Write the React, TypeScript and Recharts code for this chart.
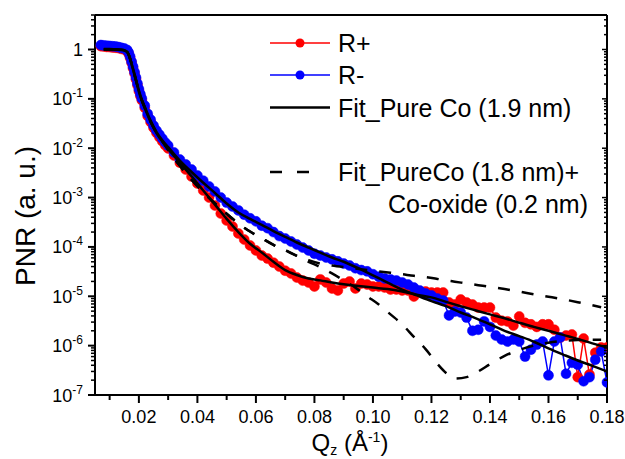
import React from "react";
import { LineChart, Line, XAxis, YAxis } from "recharts";

const FONT = '"Liberation Sans", Arial, Helvetica, sans-serif';

// measured points (R+ / R-), shared Q grid
const qData = [
  0.007, 0.008, 0.009, 0.010, 0.011, 0.012, 0.013, 0.014, 0.015, 0.016, 0.0165, 0.017, 0.0175, 0.018,
  0.0185, 0.019, 0.0195, 0.020, 0.0205, 0.021, 0.022, 0.023, 0.024, 0.025, 0.026, 0.027, 0.028, 0.029,
  0.030, 0.032, 0.034, 0.036, 0.038, 0.040, 0.042, 0.044, 0.046, 0.048, 0.050, 0.052, 0.054, 0.056,
  0.058, 0.060, 0.062, 0.064, 0.066, 0.068, 0.070, 0.072, 0.074, 0.076, 0.078, 0.080, 0.082, 0.084,
  0.086, 0.088, 0.090, 0.092, 0.094, 0.096, 0.098, 0.100, 0.102, 0.104, 0.106, 0.108, 0.110, 0.112,
  0.114, 0.116, 0.118, 0.120, 0.122, 0.124, 0.126, 0.128, 0.130, 0.132, 0.134, 0.136, 0.138, 0.140,
  0.142, 0.144, 0.146, 0.148, 0.150, 0.152, 0.154, 0.156, 0.158, 0.160, 0.162, 0.164, 0.166, 0.168,
  0.170, 0.172, 0.174, 0.176, 0.178, 0.180,
];

const rPlus = [
  1.17, 1.15, 1.13, 1.12, 1.10, 1.09, 1.07, 1.03, 1.0, 0.93, 0.82, 0.68, 0.54, 0.42,
  0.33, 0.25, 0.19, 0.145, 0.115, 0.094, 0.066, 0.045, 0.034, 0.026, 0.0205, 0.0168, 0.0138, 0.0115,
  0.0099, 0.0071, 0.0051, 0.0037, 0.00267, 0.00193, 0.00139, 0.001, 0.00069, 0.000475, 0.000343, 0.000259, 0.000187, 0.000141,
  0.000107, 8.5e-5, 6.7e-5, 5.8e-5, 4.8e-5, 4.0e-5, 3.3e-5, 2.9e-5, 2.4e-5, 2.08e-5, 1.9e-5, 1.58e-5, 2.2e-5, 1.9e-5,
  1.44e-5, 1.31e-5, 1.81e-5, 1.99e-5, 1.44e-5, 1.81e-5, 1.73e-5, 1.58e-5, 1.58e-5, 1.51e-5, 1.37e-5, 1.37e-5, 1.31e-5, 1.31e-5,
  9.9e-6, 1.25e-5, 1.25e-5, 1.19e-5, 1.19e-5, 1.19e-5, 7.5e-6, 6.8e-6, 8.6e-6, 7.5e-6, 6.8e-6, 5.9e-6, 5.9e-6, 5.9e-6,
  3.7e-6, 3.2e-6, 3.1e-6, 2.55e-6, 3.9e-6, 2.9e-6, 2.7e-6, 2.4e-6, 2.7e-6, 2.7e-6, 2.1e-6, 1.46e-6, 1.6e-6, 1.68e-6,
  2.3e-7, 1.39e-6, 2.6e-7, 7.2e-7, 9.2e-7, 9.2e-7,
];

const rMinus = [
  1.23, 1.21, 1.19, 1.18, 1.16, 1.15, 1.12, 1.08, 1.05, 0.98, 0.87, 0.72, 0.57, 0.45,
  0.35, 0.27, 0.205, 0.158, 0.125, 0.102, 0.073, 0.05, 0.038, 0.0288, 0.0229, 0.019, 0.0157, 0.0131,
  0.0113, 0.0082, 0.0059, 0.0047, 0.0037, 0.0028, 0.0022, 0.00168, 0.00133, 0.001, 0.00079, 0.00066, 0.00055, 0.00045,
  0.00038, 0.00033, 0.00027, 0.00024, 0.0002, 0.000166, 0.000148, 0.000129, 0.000112, 9.7e-5, 8.5e-5, 7.3e-5, 6.7e-5, 6.1e-5,
  5.6e-5, 5.1e-5, 4.6e-5, 4.2e-5, 3.7e-5, 3.4e-5, 3.2e-5, 2.8e-5, 2.5e-5, 2.3e-5, 2.2e-5, 2.08e-5, 1.9e-5, 1.73e-5,
  1.5e-5, 1.31e-5, 1.14e-5, 1.04e-5, 9.0e-6, 8.2e-6, 4.1e-6, 4.9e-6, 4.7e-6, 3.7e-6, 2.0e-6, 2.1e-6, 3.1e-6, 2.4e-6,
  1.6e-6, 1.33e-6, 1.21e-6, 1.33e-6, 1.21e-6, 6.0e-7, 8.3e-7, 1.05e-6, 1.21e-6, 2.5e-7, 1.21e-6, 1.46e-6, 2.7e-7, 4.5e-7,
  4.1e-7, 1.9e-7, 2.3e-7, 5.2e-7, 7.6e-7, 1.8e-7,
];

// pure Co fits (solid)
const qFit = [
  0.008, 0.010, 0.012, 0.014, 0.015, 0.016, 0.0165, 0.017, 0.0175, 0.018, 0.0185, 0.019, 0.0195, 0.020,
  0.021, 0.022, 0.024, 0.026, 0.028, 0.030, 0.034, 0.038, 0.042, 0.046, 0.050, 0.054, 0.058, 0.062,
  0.066, 0.070, 0.074, 0.078, 0.082, 0.086, 0.090, 0.095, 0.100, 0.105, 0.110, 0.115, 0.120, 0.125,
  0.130, 0.135, 0.140, 0.145, 0.150, 0.155, 0.160, 0.165, 0.170, 0.175, 0.180,
];

const fitPlus = [
  1.0, 1.0, 0.99, 0.98, 0.95, 0.88, 0.78, 0.64, 0.50, 0.39, 0.30, 0.235, 0.18, 0.14,
  0.091, 0.065, 0.034, 0.0203, 0.0136, 0.0097, 0.0051, 0.0027, 0.00139, 0.00072, 0.00037, 0.0002, 0.000116, 7.7e-5,
  5.0e-5, 3.4e-5, 2.7e-5, 2.3e-5, 2.1e-5, 1.9e-5, 1.75e-5, 1.62e-5, 1.5e-5, 1.4e-5, 1.25e-5, 1.08e-5, 9.5e-6, 7.7e-6,
  6.3e-6, 5.2e-6, 4.3e-6, 3.6e-6, 2.9e-6, 2.4e-6, 2.0e-6, 1.65e-6, 1.37e-6, 1.11e-6, 9.2e-7,
];

const fitMinus = [
  1.02, 1.02, 1.01, 1.0, 0.97, 0.90, 0.80, 0.66, 0.52, 0.41, 0.32, 0.245, 0.19, 0.148,
  0.096, 0.069, 0.036, 0.0215, 0.0145, 0.0105, 0.0056, 0.0033, 0.002, 0.00124, 0.00076, 0.0005, 0.00037, 0.00028,
  0.00021, 0.00016, 0.000123, 9.7e-5, 7.7e-5, 6.1e-5, 5.0e-5, 3.7e-5, 2.65e-5, 1.9e-5, 1.36e-5, 1.04e-5, 8.0e-6, 6.3e-6,
  4.7e-6, 3.6e-6, 2.7e-6, 2.0e-6, 1.56e-6, 1.2e-6, 8.8e-7, 6.6e-7, 5.0e-7, 3.9e-7, 3.0e-7,
];

// pure Co + Co-oxide fits (dashed)
const qOxide = [
  0.008, 0.012, 0.015, 0.016, 0.017, 0.018, 0.019, 0.020, 0.021, 0.022, 0.024, 0.026, 0.028, 0.030,
  0.034, 0.038, 0.042, 0.046, 0.050, 0.054, 0.058, 0.062, 0.066, 0.070, 0.074, 0.078, 0.082, 0.086,
  0.090, 0.094, 0.098, 0.102, 0.106, 0.110, 0.114, 0.118, 0.122, 0.125, 0.128, 0.132, 0.136, 0.140,
  0.145, 0.150, 0.155, 0.160, 0.165, 0.170, 0.178,
];

const oxidePlus = [
  1.0, 0.99, 0.96, 0.89, 0.65, 0.40, 0.24, 0.144, 0.094, 0.067, 0.035, 0.0208, 0.014, 0.0093,
  0.0044, 0.0023, 0.00129, 0.00076, 0.00047, 0.0003, 0.000205, 0.00015, 0.00011, 8.6e-5, 6.6e-5, 5.4e-5, 4.6e-5, 4.2e-5,
  3.9e-5, 3.65e-5, 3.4e-5, 3.2e-5, 3.0e-5, 2.8e-5, 2.6e-5, 2.45e-5, 2.25e-5, 2.1e-5, 1.98e-5, 1.82e-5, 1.68e-5, 1.55e-5,
  1.4e-5, 1.25e-5, 1.1e-5, 9.8e-6, 8.7e-6, 7.6e-6, 6.0e-6,
];

const oxideMinus = [
  1.0, 0.99, 0.96, 0.89, 0.65, 0.40, 0.24, 0.144, 0.094, 0.067, 0.035, 0.0208, 0.014, 0.0093,
  0.0044, 0.0023, 0.00129, 0.00076, 0.00047, 0.0003, 0.000205, 0.00015, 0.00011, 8.6e-5, 6.6e-5, 5.0e-5, 3.9e-5, 2.9e-5,
  2.1e-5, 1.5e-5, 1.0e-5, 6.8e-6, 4.3e-6, 2.7e-6, 1.5e-6, 8.5e-7, 4.3e-7, 2.8e-7, 2.15e-7, 2.3e-7, 3.0e-7, 4.2e-7,
  6.2e-7, 8.2e-7, 1.0e-6, 1.15e-6, 1.25e-6, 1.3e-6, 1.32e-6,
];

// axis ticks
const xMajor = [0.02, 0.04, 0.06, 0.08, 0.10, 0.12, 0.14, 0.16, 0.18];
const xMinor = [0.01, 0.03, 0.05, 0.07, 0.09, 0.11, 0.13, 0.15, 0.17];
const yDecades = [-7, -6, -5, -4, -3, -2, -1, 0];
const yMinorSteps = [2, 3, 4, 5, 6, 7, 8, 9];

const X_DOMAIN: [number, number] = [0.005, 0.18];
const Y_DOMAIN: [number, number] = [1e-7, 5];

const xTicks = [...xMajor, ...xMinor].sort((a, b) => a - b);
const yTicks: number[] = [];
yDecades.forEach((e) => {
  yTicks.push(Math.pow(10, e));
  yMinorSteps.forEach((m) => {
    const v = m * Math.pow(10, e);
    if (v <= Y_DOMAIN[1] + 1e-9) yTicks.push(v);
  });
});

const rows = (qs: number[], vs: number[]) => qs.map((q, i) => ({ q, v: vs[i] }));

const isMajorX = (v: number) => Math.round(v * 100) % 2 === 0;
const isDecade = (v: number) => {
  const l = Math.log10(v);
  return Math.abs(l - Math.round(l)) < 1e-6;
};

function BottomTick(props: any) {
  const { x, y, payload } = props;
  const major = isMajorX(payload.value);
  return (
    <g>
      <line x1={x} x2={x} y1={y} y2={y + (major ? 8 : 5)} stroke="#000" strokeWidth={2} />
      {major && (
        <text x={x} y={y + 28} textAnchor="middle" fontSize={18} fontFamily={FONT} fill="#000">
          {payload.value.toFixed(2)}
        </text>
      )}
    </g>
  );
}

function TopTick(props: any) {
  const { x, y, payload } = props;
  const major = isMajorX(payload.value);
  return <line x1={x} x2={x} y1={y} y2={y + (major ? 5 : 4)} stroke="#000" strokeWidth={1.5} />;
}

function LeftTick(props: any) {
  const { x, y, payload } = props;
  const v = payload.value;
  const major = isDecade(v);
  const e = Math.round(Math.log10(v));
  return (
    <g>
      <line x1={x - (major ? 7 : 4)} x2={x} y1={y} y2={y} stroke="#000" strokeWidth={major ? 2 : 1.5} />
      {major &&
        (e === 0 ? (
          <text x={x - 12} y={y + 6.5} textAnchor="end" fontSize={18} fontFamily={FONT} fill="#000">
            1
          </text>
        ) : (
          <text x={x - 12} y={y + 6.5} textAnchor="end" fontSize={18} fontFamily={FONT} fill="#000">
            10
            <tspan dy={-8} fontSize={12}>{`${e}`}</tspan>
          </text>
        ))}
    </g>
  );
}

function RightTick(props: any) {
  const { x, y, payload } = props;
  const major = isDecade(payload.value);
  return <line x1={x - (major ? 5 : 3)} x2={x} y1={y} y2={y} stroke="#000" strokeWidth={1.5} />;
}

const axisLine = { stroke: "#000", strokeWidth: 2 };
const layer = { position: "absolute" as const, left: 0, top: 0 };

export default function App() {
  const plus = rows(qData, rPlus);
  const minus = rows(qData, rMinus);
  const fitP = rows(qFit, fitPlus);
  const fitM = rows(qFit, fitMinus);
  const oxP = rows(qOxide, oxidePlus);
  const oxM = rows(qOxide, oxideMinus);

  const txt = { fontFamily: FONT, fill: "#000" };

  return (
    <div style={{ ...layer, width: 625, height: 459, background: "#fff" }}>
      {/* axes + measured data */}
      <div style={layer}>
        <LineChart width={625} height={459} margin={{ top: 14, right: 17, bottom: 20, left: 15 }}>
          <XAxis
            dataKey="q"
            type="number"
            domain={X_DOMAIN}
            allowDataOverflow
            ticks={xTicks}
            interval={0}
            height={44}
            tickSize={0}
            tickMargin={0}
            tickLine={false}
            axisLine={axisLine}
            tick={<BottomTick />}
          />
          <XAxis
            xAxisId="top"
            orientation="top"
            type="number"
            domain={X_DOMAIN}
            allowDataOverflow
            ticks={xTicks}
            interval={0}
            height={1}
            tickSize={0}
            tickMargin={0}
            tickLine={false}
            axisLine={axisLine}
            tick={<TopTick />}
          />
          <YAxis
            type="number"
            scale="log"
            domain={Y_DOMAIN}
            allowDataOverflow
            ticks={yTicks}
            interval={0}
            width={80}
            tickSize={0}
            tickMargin={0}
            tickLine={false}
            axisLine={axisLine}
            tick={<LeftTick />}
          />
          <YAxis
            yAxisId="right"
            orientation="right"
            type="number"
            scale="log"
            domain={Y_DOMAIN}
            allowDataOverflow
            ticks={yTicks}
            interval={0}
            width={1}
            tickSize={0}
            tickMargin={0}
            tickLine={false}
            axisLine={axisLine}
            tick={<RightTick />}
          />
          <Line
            data={plus}
            dataKey="v"
            type="linear"
            stroke="#ff0000"
            strokeWidth={1.5}
            dot={{ r: 5, fill: "#ff0000", stroke: "#ff0000", strokeWidth: 0.5 }}
            isAnimationActive={false}
          />
          <Line
            data={minus}
            dataKey="v"
            type="linear"
            stroke="#0000ff"
            strokeWidth={1.5}
            dot={{ r: 5, fill: "#0000ff", stroke: "#0000ff", strokeWidth: 0.5 }}
            isAnimationActive={false}
          />
        </LineChart>
      </div>

      {/* fit curves on top, same plot box */}
      <div style={layer}>
        <LineChart width={625} height={459} margin={{ top: 15, right: 18, bottom: 64, left: 95 }}>
          <XAxis dataKey="q" type="number" domain={X_DOMAIN} allowDataOverflow hide />
          <YAxis type="number" scale="log" domain={Y_DOMAIN} allowDataOverflow hide />
          <Line data={fitP} dataKey="v" type="monotone" stroke="#000" strokeWidth={2.5} dot={false} isAnimationActive={false} />
          <Line data={fitM} dataKey="v" type="monotone" stroke="#000" strokeWidth={2.5} dot={false} isAnimationActive={false} />
          <Line
            data={oxP}
            dataKey="v"
            type="monotone"
            stroke="#000"
            strokeWidth={2.5}
            strokeDasharray="12 12"
            dot={false}
            isAnimationActive={false}
          />
          <Line
            data={oxM}
            dataKey="v"
            type="monotone"
            stroke="#000"
            strokeWidth={2.5}
            strokeDasharray="12 12"
            dot={false}
            isAnimationActive={false}
          />
        </LineChart>
      </div>

      <svg width={625} height={459} style={{ ...layer, pointerEvents: "none" }}>
        {/* legend */}
        <line x1={270} x2={330} y1={43} y2={43} stroke="#ff0000" strokeWidth={1.5} />
        <circle cx={300} cy={43} r={4.5} fill="#ff0000" />
        <text x={338} y={52} fontSize={25} {...txt}>R+</text>
        <line x1={270} x2={330} y1={75} y2={75} stroke="#0000ff" strokeWidth={1.5} />
        <circle cx={300} cy={75} r={4.5} fill="#0000ff" />
        <text x={338} y={84} fontSize={25} {...txt}>R-</text>
        <line x1={270} x2={330} y1={107.5} y2={107.5} stroke="#000" strokeWidth={2.5} />
        <text x={338} y={116.5} fontSize={25} {...txt}>Fit_Pure Co (1.9 nm)</text>
        <line x1={270} x2={310} y1={172} y2={172} stroke="#000" strokeWidth={2.5} strokeDasharray="12 15" />
        <text x={338} y={181} fontSize={25} {...txt}>Fit_PureCo (1.8 nm)+</text>
        <text x={588} y={213} fontSize={25} textAnchor="end" {...txt}>Co-oxide (0.2 nm)</text>

        {/* axis titles */}
        <text x={35} y={216} fontSize={28} textAnchor="middle" transform="rotate(-90 35 216)" {...txt}>
          PNR (a. u.)
        </text>
        <text x={350} y={451} fontSize={24} textAnchor="middle" {...txt}>
          Q<tspan fontSize={14} dy={4}>z</tspan>
          <tspan dy={-4}> (Å</tspan>
          <tspan fontSize={14} dy={-9}>-1</tspan>
          <tspan dy={9}>)</tspan>
        </text>
      </svg>
    </div>
  );
}
